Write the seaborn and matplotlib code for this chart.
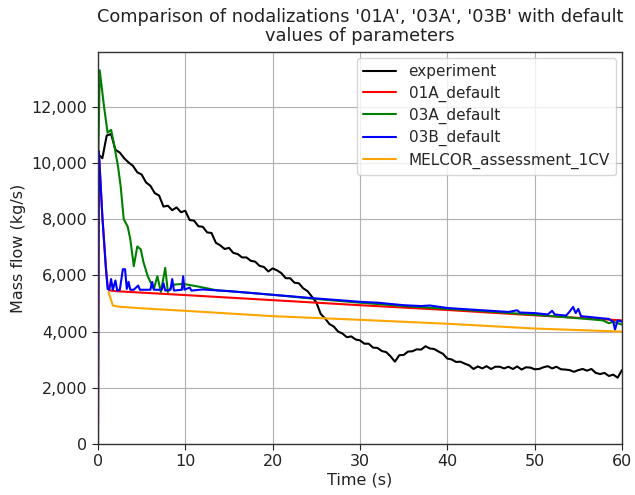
import numpy as np
import pandas as pd
import matplotlib
matplotlib.use("Agg")
import matplotlib.pyplot as plt
import matplotlib.ticker as mticker
import seaborn as sns

# ---------------- data ----------------
exp_t = [0.0, 0.5, 1.0, 1.5, 2.0, 2.5, 3.0, 3.5, 4.0, 4.5, 5.0, 5.5, 6.0, 6.5, 7.0, 7.5,
         8.0, 8.5, 9.0, 9.5, 10.0, 10.5, 11.0, 11.5, 12.0, 12.5, 13.0, 13.5, 14.0, 14.5,
         15.0, 15.5, 16.0, 16.5, 17.0, 17.5, 18.0, 18.5, 19.0, 19.5, 20.0, 20.5, 21.0,
         21.5, 22.0, 22.5, 23.0, 23.5, 24.0, 24.5, 25.0, 25.5, 26.0, 26.5, 27.0, 27.5,
         28.0, 28.5, 29.0, 29.5, 30.0, 30.5, 31.0, 31.5, 32.0, 32.5, 33.0, 33.5, 34.0,
         34.5, 35.0, 35.5, 36.0, 36.5, 37.0, 37.5, 38.0, 38.5, 39.0, 39.5, 40.0, 40.5,
         41.0, 41.5, 42.0, 42.5, 43.0, 43.5, 44.0, 44.5, 45.0, 45.5, 46.0, 46.5, 47.0,
         47.5, 48.0, 48.5, 49.0, 49.5, 50.0, 50.5, 51.0, 51.5, 52.0, 52.5, 53.0, 53.5,
         54.0, 54.5, 55.0, 55.5, 56.0, 56.5, 57.0, 57.5, 58.0, 58.5, 59.0, 59.5, 60.0]
exp_v = [10320, 10170, 10980, 11030, 10470, 10370, 10170, 10020, 9900, 9670, 9590, 9310,
         9190, 8930, 8840, 8450, 8480, 8320, 8420, 8250, 8300, 7970, 7950, 7750, 7730,
         7530, 7510, 7160, 7070, 6940, 6980, 6800, 6760, 6640, 6640, 6520, 6490, 6340,
         6300, 6140, 6250, 6180, 6080, 5900, 5900, 5740, 5720, 5540, 5440, 5240, 5040,
         4630, 4470, 4270, 4180, 4000, 3930, 3800, 3830, 3720, 3690, 3570, 3570, 3430,
         3420, 3310, 3270, 3120, 2930, 3160, 3170, 3290, 3300, 3370, 3360, 3480, 3400,
         3380, 3290, 3210, 3040, 3010, 2920, 2930, 2860, 2800, 2670, 2760, 2690, 2770,
         2670, 2750, 2750, 2690, 2750, 2670, 2760, 2650, 2730, 2720, 2660, 2670, 2730,
         2770, 2690, 2750, 2660, 2650, 2630, 2570, 2630, 2670, 2610, 2670, 2530, 2490,
         2530, 2420, 2470, 2360, 2630]

r01a_t = [0.0, 0.1, 0.5, 0.9, 1.1, 1.3, 2.0, 10.0, 20.0, 30.0, 40.0, 50.0, 60.0]
r01a_v = [0, 10420, 8100, 6330, 5670, 5470, 5440, 5300, 5120, 4940, 4770, 4580, 4400]

r03a_t = [0.05, 0.2, 0.7, 1.1, 1.5, 1.8, 2.3, 2.6, 2.95, 3.4, 3.7, 4.1, 4.5, 4.9, 5.2,
          5.7, 6.0, 6.4, 6.8, 7.2, 7.7, 8.0, 8.6, 9.75, 11.7, 13.6, 15.0, 20.0, 25.0,
          30.0, 35.0, 40.0, 45.0, 50.0, 54.0, 56.0, 57.8, 58.5, 59.0, 60.0]
r03a_v = [10420, 13300, 11990, 11080, 11180, 10730, 9870, 9160, 8000, 7740, 7290, 6330,
          7030, 6930, 6480, 5970, 5770, 5520, 5970, 5410, 6270, 5410, 5670, 5700, 5590,
          5470, 5440, 5310, 5160, 5030, 4910, 4810, 4710, 4600, 4500, 4450, 4400, 4300,
          4350, 4250]

r03b_t = [0.0, 0.1, 0.5, 0.9, 1.1, 1.3, 1.5, 1.7, 2.0, 2.2, 2.5, 2.85, 3.1, 3.3, 3.5,
          3.7, 4.1, 4.6, 4.8, 6.0, 6.2, 6.4, 7.3, 7.5, 7.7, 8.3, 8.5, 8.7, 9.6, 9.75,
          9.9, 10.5, 10.7, 12.0, 13.5, 15.0, 17.0, 20.0, 22.0, 25.0, 28.0, 30.0, 32.0,
          35.0, 37.0, 38.0, 40.0, 43.0, 45.0, 47.0, 48.0, 48.3, 50.0, 51.5, 52.0, 52.3,
          53.6, 54.0, 54.4, 54.7, 55.0, 55.3, 56.0, 58.5, 59.0, 59.2, 59.5, 60.0]
r03b_v = [0, 10420, 8100, 6270, 5520, 5490, 5870, 5490, 5820, 5460, 5490, 6220, 6220,
          5520, 5770, 5490, 5490, 5640, 5490, 5490, 5770, 5490, 5490, 5720, 5460, 5490,
          5870, 5460, 5490, 5970, 5490, 5570, 5460, 5500, 5470, 5440, 5390, 5310, 5260,
          5180, 5110, 5060, 5030, 4940, 4910, 4930, 4840, 4780, 4740, 4700, 4760, 4680,
          4660, 4610, 4740, 4610, 4570, 4710, 4880, 4660, 4810, 4550, 4530, 4450, 4350,
          4070, 4400, 4350]

melcor_t = [1.2, 1.7, 2.3, 5.0, 10.0, 20.0, 30.0, 40.0, 50.0, 60.0]
melcor_v = [5410, 4930, 4890, 4830, 4740, 4550, 4420, 4280, 4110, 4000]

names = ["experiment", "01A_default", "03A_default", "03B_default", "MELCOR_assessment_1CV"]
colors = ["black", "red", "green", "blue", "orange"]

series = [(exp_t, exp_v), (r01a_t, r01a_v), (r03a_t, r03a_v), (r03b_t, r03b_v),
          (melcor_t, melcor_v)]
frames = []
for name, (t, v) in zip(names, series):
    frames.append(pd.DataFrame({"Time": t, "Flow": v, "series": name}))
df = pd.concat(frames, ignore_index=True)

# ---------------- plot ----------------
sns.set_style("ticks")
plt.rcParams["font.family"] = ["DejaVu Sans"]

fig = plt.figure(figsize=(6.35, 4.95), dpi=100)
ax = fig.add_axes([0.1543, 0.1030, 0.8252, 0.7919])

sns.lineplot(data=df, x="Time", y="Flow", hue="series", hue_order=names,
             palette=dict(zip(names, colors)), estimator=None, sort=False,
             linewidth=1.5, ax=ax)

ax.set_xlim(0, 60)
ax.set_ylim(0, 13950)
ax.set_xticks([0, 10, 20, 30, 40, 50, 60])
ax.set_yticks([0, 2000, 4000, 6000, 8000, 10000, 12000])
ax.yaxis.set_major_formatter(mticker.FuncFormatter(lambda x, p: f"{int(x):,}"))
ax.grid(True, color="#b0b0b0", linewidth=0.8)
ax.tick_params(direction="out", length=4, width=0.8, colors="#222222", labelsize=11.5)
for s in ax.spines.values():
    s.set_visible(True)
    s.set_color("#333333")
    s.set_linewidth(1.0)

ax.set_xlabel("Time (s)", fontsize=11.5, color="#222222", labelpad=2)
ax.set_ylabel("Mass flow (kg/s)", fontsize=11.5, color="#222222")
ax.set_title("Comparison of nodalizations '01A', '03A', '03B' with default\nvalues of parameters",
             fontsize=12.8, color="#222222", linespacing=1.1, pad=8)

leg = ax.legend(loc="upper right", fontsize=11, frameon=True, title=None,
                labelspacing=0.4, handlelength=2.2, borderaxespad=0.4)
leg.get_frame().set_edgecolor("#cccccc")

fig.savefig("out.png", dpi=100)
